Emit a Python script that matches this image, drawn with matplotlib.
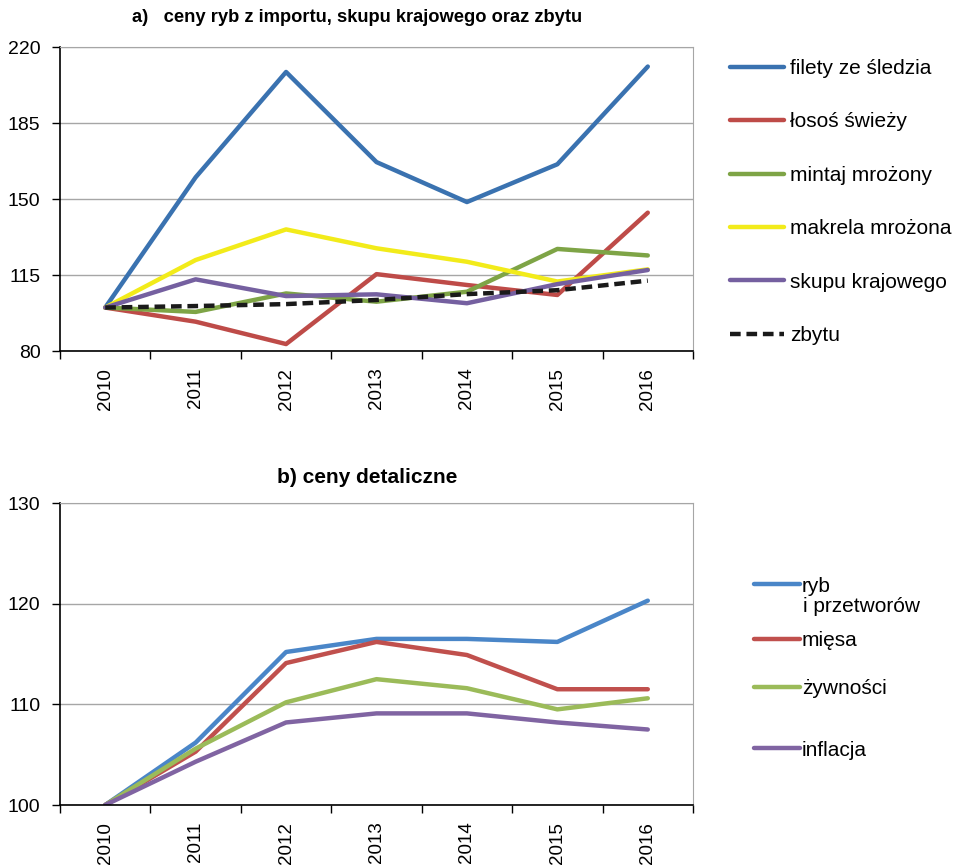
import numpy as np
import matplotlib.pyplot as plt
from matplotlib.ticker import FixedLocator

plt.rcParams['font.family'] = ['Liberation Sans', 'DejaVu Sans']

years = ["2010", "2011", "2012", "2013", "2014", "2015", "2016"]

# a) ceny ryb z importu, skupu krajowego oraz zbytu
filety = [100, 160, 208.5, 167, 148.6, 166, 211]
losos = [100, 93.5, 83.2, 115.4, 110.4, 105.8, 143.7]
mintaj = [100, 98, 106.5, 102.7, 107.3, 127, 124]
makrela = [100, 121.9, 136, 127.3, 121.1, 112, 117.6]
skupu = [100, 113, 105.3, 106.1, 102, 110.8, 117.3]
zbytu = [100, 100.7, 101.6, 103.5, 106.2, 108, 112.4]

# b) ceny detaliczne
ryb = [100, 106.2, 115.2, 116.5, 116.5, 116.2, 120.3]
miesa = [100, 105.3, 114.1, 116.2, 114.9, 111.5, 111.5]
zywnosci = [100, 105.6, 110.2, 112.5, 111.6, 109.5, 110.6]
inflacja = [100, 104.3, 108.2, 109.1, 109.1, 108.2, 107.5]

fig = plt.figure(figsize=(9.6, 8.68), dpi=100)
ax1 = fig.add_axes([60 / 960, 1 - 351 / 868, 633 / 960, 304 / 868])
ax2 = fig.add_axes([60 / 960, 1 - 805 / 868, 633 / 960, 302 / 868])

x = np.arange(len(years))
lw = 3.2

ax1.plot(x, filety, color="#3A72B0", lw=lw, label="filety ze śledzia", solid_capstyle="round")
ax1.plot(x, losos, color="#BE4B48", lw=lw, label="łosoś świeży", solid_capstyle="round")
ax1.plot(x, mintaj, color="#7EA446", lw=lw, label="mintaj mrożony", solid_capstyle="round")
ax1.plot(x, makrela, color="#F2EB1A", lw=lw, label="makrela mrożona", solid_capstyle="round")
ax1.plot(x, skupu, color="#7560A0", lw=lw, label="skupu krajowego", solid_capstyle="round")
ax1.plot(x, zbytu, color="#1A1A1A", lw=lw, ls=(0, (2.4, 1.3)), label="zbytu")

l_ryb, = ax2.plot(x, ryb, color="#4A86C8", lw=lw, solid_capstyle="round")
l_mie, = ax2.plot(x, miesa, color="#C0504D", lw=lw, solid_capstyle="round")
l_zyw, = ax2.plot(x, zywnosci, color="#9BBB59", lw=lw, solid_capstyle="round")
l_inf, = ax2.plot(x, inflacja, color="#8064A2", lw=lw, solid_capstyle="round")

for ax, lo, hi, step in [(ax1, 80, 220, 35), (ax2, 100, 130, 10)]:
    ax.set_xlim(-0.5, len(years) - 0.5)
    ax.set_ylim(lo, hi)
    ax.set_yticks(np.arange(lo, hi + 1, step))
    ax.yaxis.grid(True, color="#A6A6A6", lw=1)
    ax.set_axisbelow(True)
    ax.set_xticks(x)
    ax.set_xticklabels(years, rotation=90)
    ax.xaxis.set_minor_locator(FixedLocator(np.arange(-0.5, len(years), 1)))
    ax.tick_params(axis="x", which="major", length=0, pad=12, labelsize=13.5)
    ax.tick_params(axis="x", which="minor", length=6, width=1, color="black")
    ax.tick_params(axis="y", length=6, width=1, labelsize=14, pad=8)
    for s in ["top", "right"]:
        ax.spines[s].set_color("#A6A6A6")
    for s in ["left", "bottom"]:
        ax.spines[s].set_color("black")
        ax.spines[s].set_linewidth(1.2)

fig.text(357 / 960, 1 - 18 / 868, "a)   ceny ryb z importu, skupu krajowego oraz zbytu",
         fontsize=13.2, fontweight="bold", ha="center", va="center")
fig.text(367 / 960, 1 - 477 / 868, "b) ceny detaliczne",
         fontsize=15, fontweight="bold", ha="center", va="center")

ax1.legend(loc="center left", frameon=False, fontsize=15, labelspacing=1.65,
           handlelength=2.6, handletextpad=0.3, borderpad=0, borderaxespad=0)
leg1 = ax1.get_legend()
leg1.set_bbox_to_anchor((730 / 960, 1 - 202 / 868), transform=fig.transFigure)

# legend for b): entries placed at their own heights
entries = [(l_ryb, "ryb", 586), (l_mie, "mięsa", 641), (l_zyw, "żywności", 689), (l_inf, "inflacja", 750)]
for h, lab, ypix in entries:
    lg = fig.legend([h], [lab], loc="center left",
                    bbox_to_anchor=(754 / 960, 1 - ypix / 868),
                    frameon=False, fontsize=15, handlelength=2.2,
                    handletextpad=0.1, borderpad=0, borderaxespad=0)
fig.text(803 / 960, 1 - 606 / 868, "i przetworów", fontsize=15, ha="left", va="center")

fig.savefig("out.png", dpi=100)
